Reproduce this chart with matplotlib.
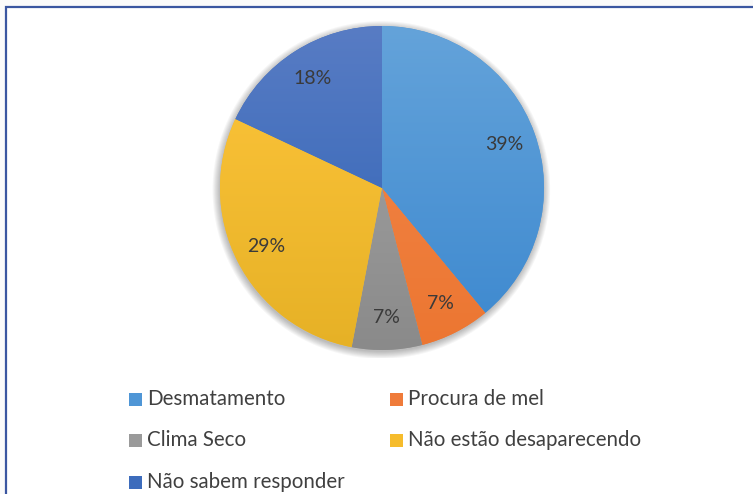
import numpy as np
import matplotlib
matplotlib.use("Agg")
import matplotlib.pyplot as plt
from matplotlib.colors import LinearSegmentedColormap
from matplotlib.patches import Rectangle, Circle

plt.rcParams['font.family'] = ['Lato', 'DejaVu Sans']

categories = ["Desmatamento", "Procura de mel", "Clima Seco",
              "Não estão desaparecendo", "Não sabem responder"]
values = [39, 7, 7, 29, 18]
top_colors = ["#64A3DA", "#F3884C", "#A8A8A8", "#FFC63C", "#587CC4"]
bottom_colors = ["#3C88CF", "#EC7631", "#8A8A8A", "#E6B126", "#2D62B5"]
legend_colors = ["#4F96D6", "#EF7B3A", "#9A9A9A", "#F6BC2C", "#3D6CBC"]

W, H = 753, 494
fig = plt.figure(figsize=(W / 100, H / 100), dpi=100)
fig.patch.set_facecolor("#FAFAFA")

# white chart area with blue frame
frame = Rectangle((6 / W, -0.05), 1.1, (H - 7) / H + 0.05, transform=fig.transFigure,
                  facecolor="white", edgecolor="#3A56A0", linewidth=1.6, zorder=-5)
fig.patches.append(frame)

cx, cy, r = 382, 188, 162
lim = 1.05
half = r * lim
ax = fig.add_axes([(cx - half) / W, (H - cy - half) / H, 2 * half / W, 2 * half / H])
ax.set_axis_off()
ax.patch.set_alpha(0)

# soft shadow
for k in range(8):
    ax.add_patch(Circle((-0.004, -0.012), 1.0 + 0.006 * k, facecolor="#000000",
                        alpha=0.035, edgecolor="none", zorder=0))

wedges, texts, autotexts = ax.pie(values, startangle=90, counterclock=False,
                                  colors=legend_colors, autopct='%1.0f%%',
                                  pctdistance=0.8, radius=1.0,
                                  textprops=dict(color="#3A3A3A", fontsize=14,
                                                 fontstyle="normal",
                                                 fontweight="normal"),
                                  wedgeprops=dict(linewidth=0))
grad = np.linspace(0, 1, 256).reshape(-1, 1)
for w, ct, cb in zip(wedges, top_colors, bottom_colors):
    cmap = LinearSegmentedColormap.from_list("g", [cb, ct])
    im = ax.imshow(grad, extent=[-1, 1, -1, 1], origin="lower", cmap=cmap,
                   aspect="auto", zorder=w.get_zorder() + 0.1)
    im.set_clip_path(w)
for t in autotexts:
    t.set_zorder(5)
ax.set_xlim(-lim, lim)
ax.set_ylim(-lim, lim)
ax.set_aspect("equal")

# legend (row-wise, two columns)
col_x = [129, 390]
row_base = [405, 446, 488]
for i, (lab, col) in enumerate(zip(categories, legend_colors)):
    row, c = divmod(i, 2)
    x = col_x[c]
    yb = row_base[row]
    fig.patches.append(Rectangle((x / W, (H - yb - 1) / H), 13 / W, 13 / H,
                                 transform=fig.transFigure, facecolor=col,
                                 edgecolor="none"))
    fig.text((x + 18) / W, (H - yb) / H, lab, fontsize=14.8, color="#404040",
             ha="left", va="baseline", fontstyle="normal")

fig.savefig("out.png", dpi=100, facecolor=fig.get_facecolor())
